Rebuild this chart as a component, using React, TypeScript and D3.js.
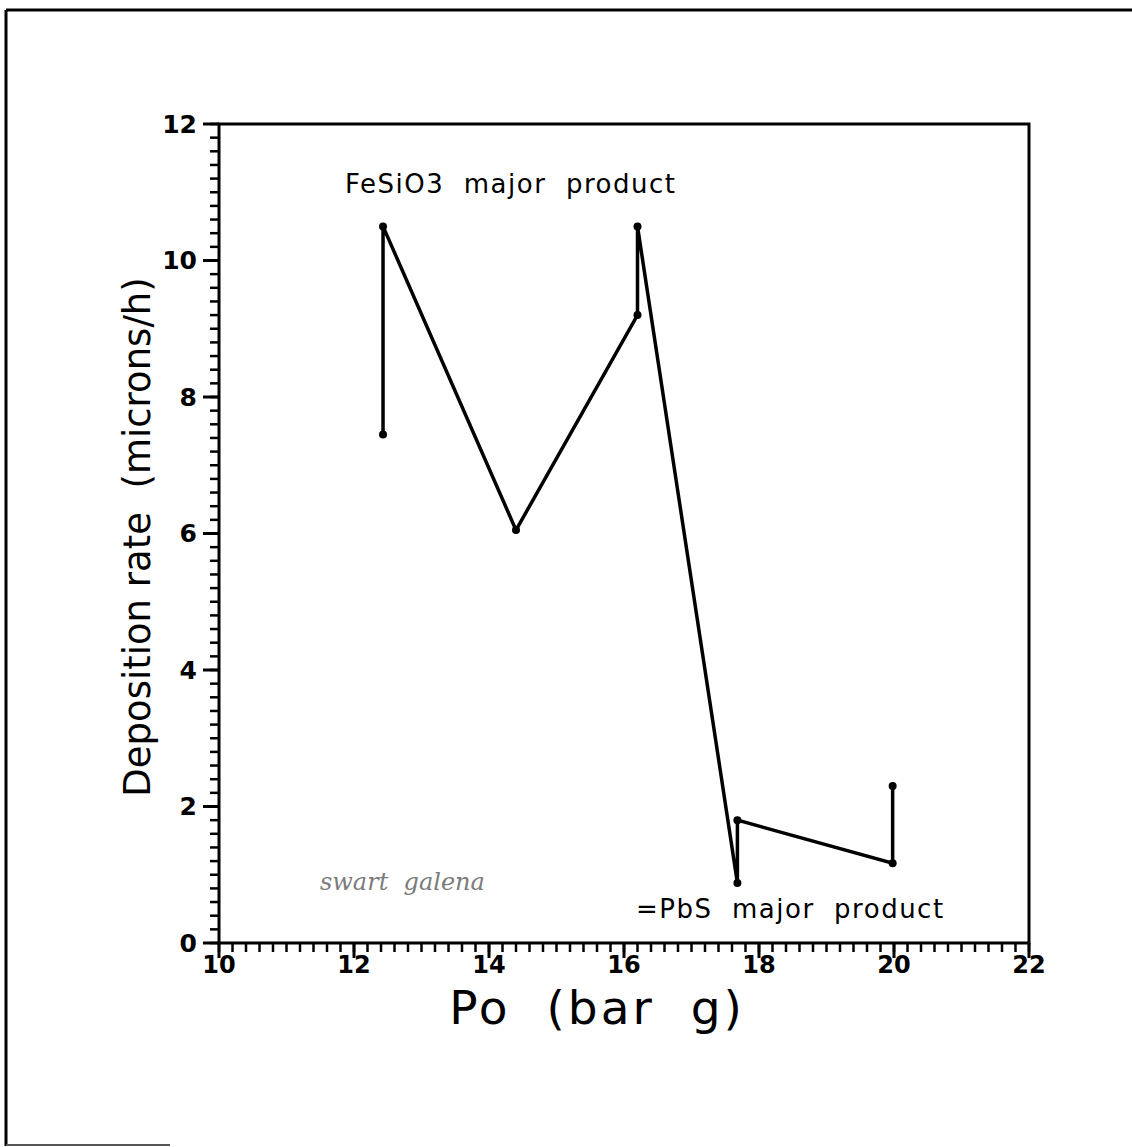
import React from "react";
import * as d3 from "d3";

const pathX = [12.43, 12.43, 14.4, 16.2, 16.2, 17.68, 17.68, 19.98, 19.98];
const pathY = [7.45, 10.5, 6.05, 9.2, 10.5, 0.88, 1.8, 1.17, 2.3];
const xTicks = [10, 12, 14, 16, 18, 20, 22];
const yTicks = [0, 2, 4, 6, 8, 10, 12];
const xTitle = "Po  (bar  g)";
const yTitle = "Deposition rate  (microns/h)";
const noteTop = "FeSiO3  major  product";
const noteBottom = "=PbS  major  product";
const handNote = "swart  galena";

const W = 1132;
const H = 1147;
const left = 219;
const right = 1029;
const top = 124;
const bottom = 943;

export default function App() {
  const x = d3.scaleLinear().domain([10, 22]).range([left, right]);
  const y = d3.scaleLinear().domain([0, 12]).range([bottom, top]);
  const minorX = d3.range(10, 22.001, 0.2);
  const minorY = d3.range(0, 12.001, 0.2);
  const pts = pathX.map((v, i) => [v, pathY[i]] as [number, number]);
  const line = d3
    .line<[number, number]>()
    .x((d) => x(d[0]))
    .y((d) => y(d[1]));
  const font = "'DejaVu Sans', 'Liberation Sans', sans-serif";
  const pre = { whiteSpace: "pre" as const };
  return (
    <svg
      width={W}
      height={H}
      style={{ position: "absolute", left: 0, top: 0, display: "block", background: "#fff" }}
    >
      {/* scan border */}
      <line x1={6} y1={10} x2={1132} y2={10} stroke="#000" strokeWidth={3} />
      <line x1={6} y1={10} x2={6} y2={1146} stroke="#000" strokeWidth={3} />
      <line x1={6} y1={1145} x2={170} y2={1145} stroke="#555" strokeWidth={2} />

      {/* frame */}
      <rect x={left} y={top} width={right - left} height={bottom - top} fill="none" stroke="#000" strokeWidth={3} />

      {/* minor ticks */}
      {minorX.map((v, i) => (
        <line key={"mx" + i} x1={x(v)} x2={x(v)} y1={bottom} y2={bottom + 9} stroke="#000" strokeWidth={2.5} />
      ))}
      {minorY.map((v, i) => (
        <line key={"my" + i} x1={left - 9} x2={left} y1={y(v)} y2={y(v)} stroke="#000" strokeWidth={2.5} />
      ))}
      {/* major ticks */}
      {xTicks.map((v) => (
        <line key={"Mx" + v} x1={x(v)} x2={x(v)} y1={bottom} y2={bottom + 15} stroke="#000" strokeWidth={3} />
      ))}
      {yTicks.map((v) => (
        <line key={"My" + v} x1={left - 16} x2={left} y1={y(v)} y2={y(v)} stroke="#000" strokeWidth={3} />
      ))}

      {/* tick labels */}
      {xTicks.map((v) => (
        <text
          key={"lx" + v}
          x={x(v)}
          y={bottom + 30}
          textAnchor="middle"
          fontFamily={font}
          fontSize={24}
          fontWeight="bold"
          fill="#000"
        >
          {v}
        </text>
      ))}
      {yTicks.map((v) => (
        <text
          key={"ly" + v}
          x={left - 22}
          y={y(v)}
          dy="0.35em"
          textAnchor="end"
          fontFamily={font}
          fontSize={25}
          fontWeight="bold"
          fill="#000"
        >
          {v}
        </text>
      ))}

      {/* axis titles */}
      <text
        x={597}
        y={1024}
        textAnchor="middle"
        fontFamily={font}
        fontSize={47}
        letterSpacing={3}
        fill="#000"
        style={pre}
      >
        {xTitle}
      </text>
      <text
        transform={`translate(150, 537) rotate(-90)`}
        textAnchor="middle"
        fontFamily={font}
        fontSize={37}
        fill="#000"
        style={pre}
      >
        {yTitle}
      </text>

      {/* data */}
      <path d={line(pts) || ""} fill="none" stroke="#000" strokeWidth={3.5} strokeLinejoin="miter" />
      {pts.map((p, i) => (
        <circle key={"pt" + i} cx={x(p[0])} cy={y(p[1])} r={4} fill="#000" />
      ))}

      {/* annotations */}
      <text x={345} y={193} fontFamily={font} fontSize={26} letterSpacing={1.5} fill="#000" style={pre}>
        {noteTop}
      </text>
      <text x={636} y={918} fontFamily={font} fontSize={26} letterSpacing={1.5} fill="#000" style={pre}>
        {noteBottom}
      </text>
      <text
        x={320}
        y={890}
        fontFamily="'DejaVu Serif', serif"
        fontStyle="italic"
        fontSize={24}
        fill="#444"
        opacity={0.7}
        style={pre}
      >
        {handNote}
      </text>
    </svg>
  );
}
